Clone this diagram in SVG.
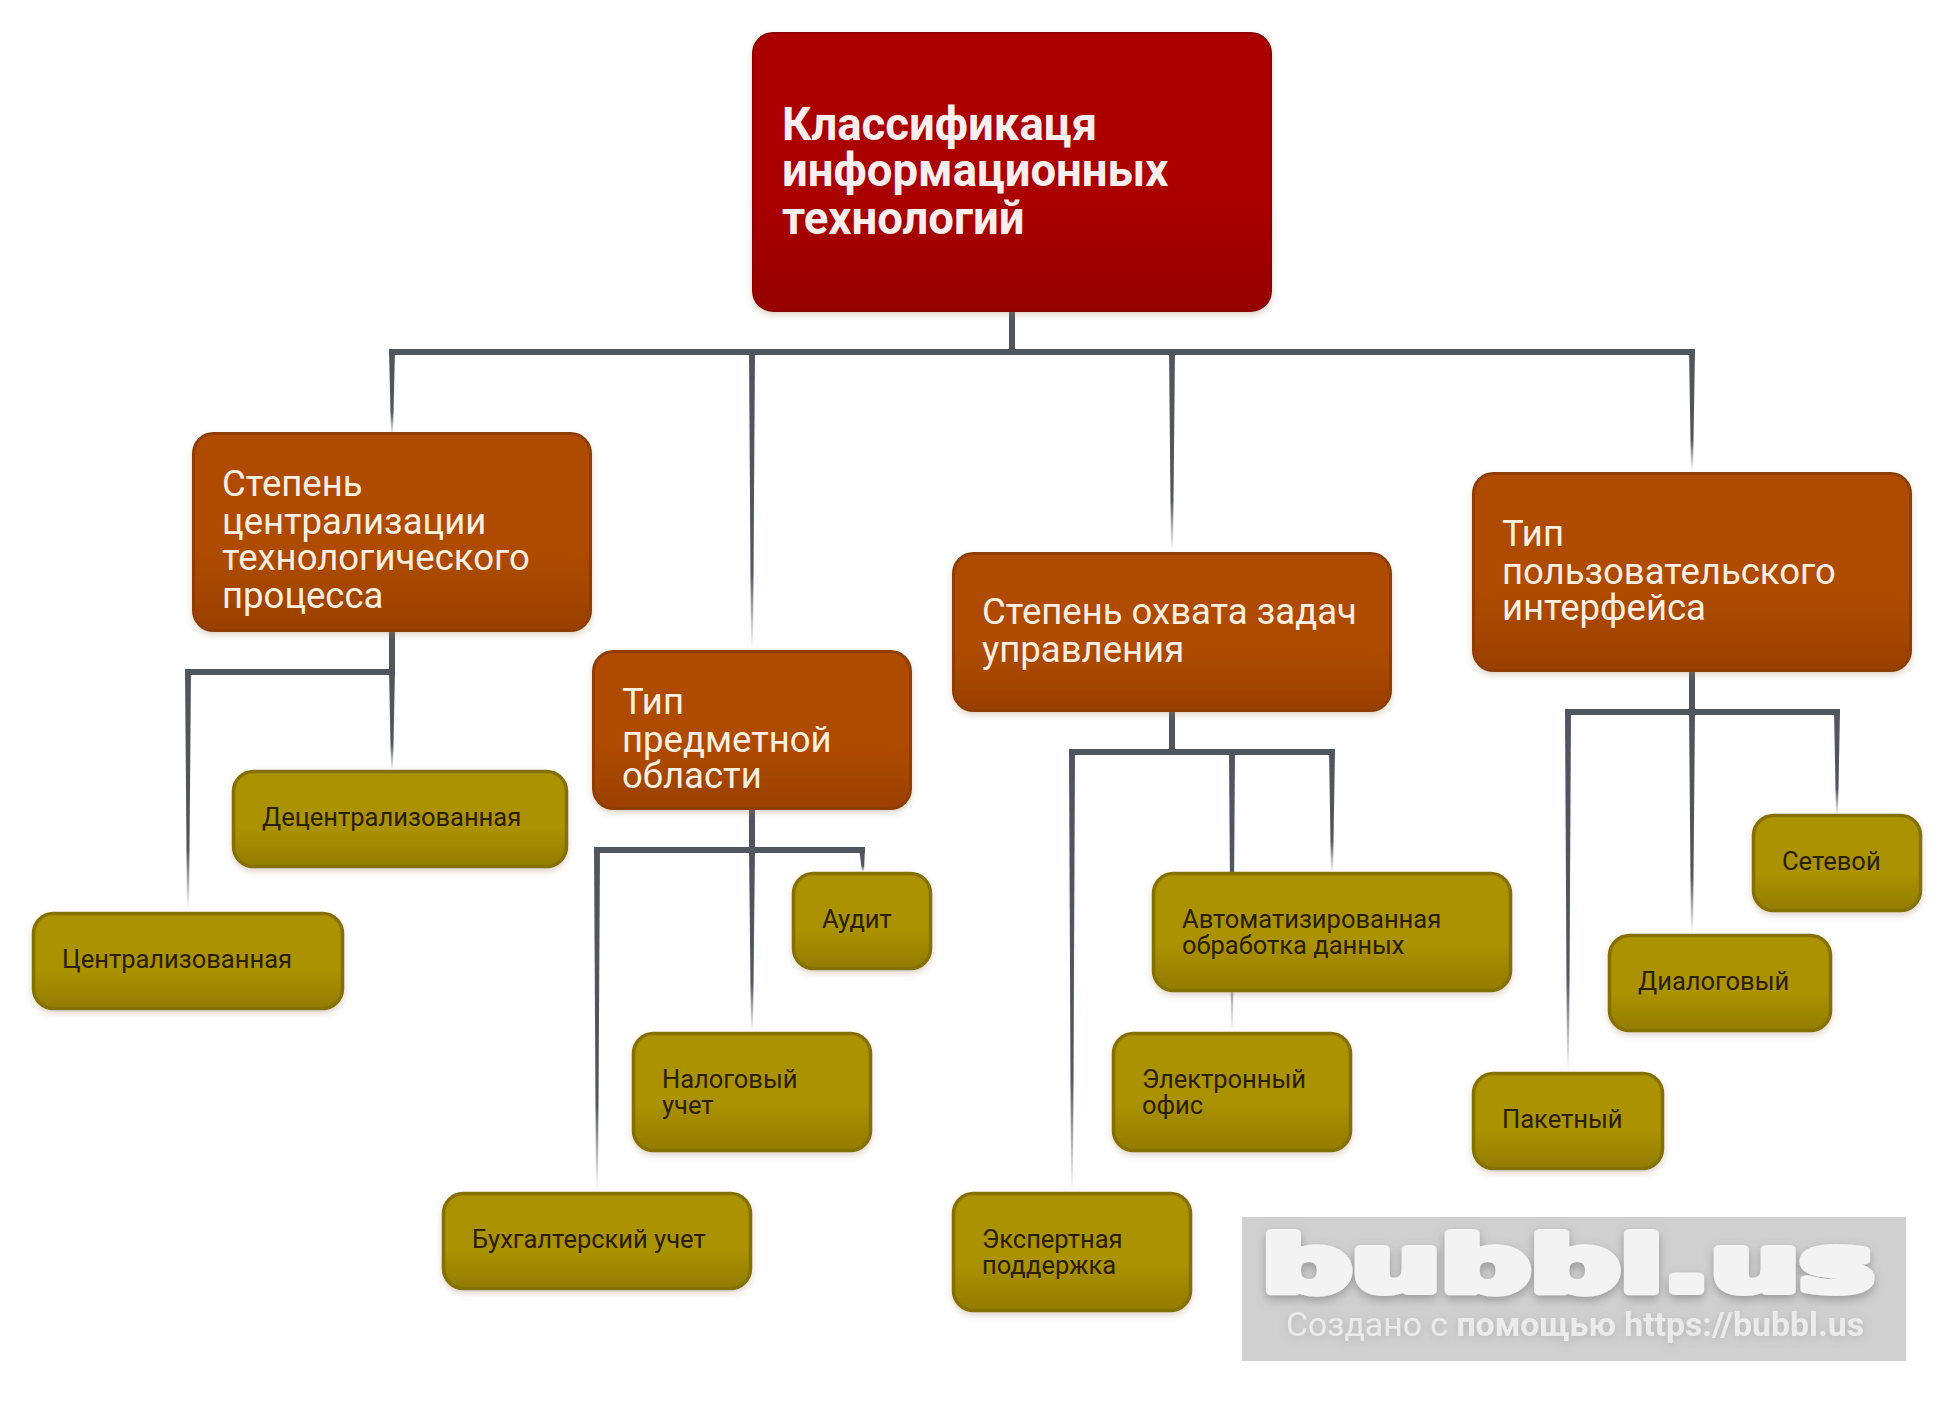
<svg xmlns="http://www.w3.org/2000/svg" width="1954" height="1408" viewBox="0 0 1954 1408">
<style>
text{font-family:Roboto,"Liberation Sans",sans-serif}
.root rect{fill:url(#gr);stroke:#8f0000;stroke-width:2}
.mid rect{fill:url(#go);stroke:#8f3d00;stroke-width:3}
.leaf rect{fill:url(#gl);stroke:#857100;stroke-width:3.500}
.root text{font-size:45.500px;font-weight:700;fill:#fbeeee}
.mid text{font-size:36.500px;fill:#fdf0e2}
.leaf text{font-size:25.500px;fill:#2a2000}
.bar{fill:#50565e}
.fade{fill:url(#gf)}
</style>
<defs>
<linearGradient id="gr" x1="0" y1="0" x2="0" y2="1"><stop offset="0" stop-color="#aa0000"/><stop offset=".6" stop-color="#aa0000"/><stop offset="1" stop-color="#960000"/></linearGradient>
<linearGradient id="go" x1="0" y1="0" x2="0" y2="1"><stop offset="0" stop-color="#af4b00"/><stop offset=".6" stop-color="#af4b00"/><stop offset="1" stop-color="#994000"/></linearGradient>
<linearGradient id="gl" x1="0" y1="0" x2="0" y2="1"><stop offset="0" stop-color="#ab9200"/><stop offset=".6" stop-color="#ab9200"/><stop offset="1" stop-color="#927c00"/></linearGradient>
<linearGradient id="gf" x1="0" y1="0" x2="0" y2="1"><stop offset="0" stop-color="#50565e"/><stop offset=".75" stop-color="#50565e"/><stop offset="1" stop-color="#50565e" stop-opacity="0"/></linearGradient>
<filter id="sh" x="-5%" y="-10%" width="110%" height="125%"><feDropShadow dx="0" dy="3" stdDeviation="3" flood-color="#a08060" flood-opacity=".35"/></filter>
<filter id="ws" x="-5%" y="-20%" width="110%" height="150%"><feDropShadow dx="0" dy="4" stdDeviation="5" flood-color="#777" flood-opacity=".6"/></filter>
<filter id="ts" x="-5%" y="-30%" width="110%" height="170%"><feDropShadow dx="0" dy="2" stdDeviation="4" flood-color="#999" flood-opacity=".5"/></filter>
</defs>
<g id="connectors">
<g id="c-root">
<rect class="bar" x="1009" y="312" width="6" height="40"/>
<path class="bar" d="M389 349H1695V355H389Z"/>
<polygon class="fade" points="389,349 395,349 393,434 391,434"/>
<polygon class="fade" points="749,349 755,349 753,648 751,648"/>
<polygon class="fade" points="1169,349 1175,349 1173,550 1171,550"/>
<polygon class="fade" points="1689,349 1695,349 1693,470 1691,470"/>
</g>
<g id="c-n1">
<rect class="bar" x="389" y="632" width="6" height="43"/>
<path class="bar" d="M185 669H395V675H185Z"/>
<polygon class="fade" points="185,669 191,669 189,910 187,910"/>
<polygon class="fade" points="389,669 395,669 393,769 391,769"/>
</g>
<g id="c-n2">
<rect class="bar" x="749" y="810" width="6" height="43"/>
<path class="bar" d="M594 847H865V853H594Z"/>
<polygon class="fade" points="594,847 600,847 598,1190 596,1190"/>
<polygon class="fade" points="749,847 755,847 753,1030 751,1030"/>
<polygon class="fade" points="859,847 865,847 864,872 862,872"/>
</g>
<g id="c-n3">
<rect class="bar" x="1169" y="712" width="6" height="43"/>
<path class="bar" d="M1069 749H1335V755H1069Z"/>
<polygon class="fade" points="1069,749 1075,749 1073,1190 1071,1190"/>
<polygon class="fade" points="1229,749 1235,749 1233,1030 1231,1030"/>
<polygon class="fade" points="1329,749 1335,749 1333,872 1331,872"/>
</g>
<g id="c-n4">
<rect class="bar" x="1689" y="672" width="6" height="43"/>
<path class="bar" d="M1565 709H1840V715H1565Z"/>
<polygon class="fade" points="1565,709 1571,709 1569,1070 1567,1070"/>
<polygon class="fade" points="1689,709 1695,709 1693,933 1691,933"/>
<polygon class="fade" points="1834,709 1840,709 1838,815 1836,815"/>
</g>
</g>
<g id="root" class="root"><rect x="753" y="33" width="518" height="278" rx="20" filter="url(#sh)"/><text x="782" y="140">Классификаця</text><text x="782" y="186">информационных</text><text x="782" y="234">технологий</text></g>
<g id="n1" class="mid"><rect x="193.500" y="433.500" width="397" height="197" rx="20" filter="url(#sh)"/><text x="222" y="496">Степень</text><text x="222" y="534">централизации</text><text x="222" y="570">технологического</text><text x="222" y="608">процесса</text></g>
<g id="n2" class="mid"><rect x="593.500" y="651.500" width="317" height="157" rx="20" filter="url(#sh)"/><text x="622" y="714">Тип</text><text x="622" y="752">предметной</text><text x="622" y="788">области</text></g>
<g id="n3" class="mid"><rect x="953.500" y="553.500" width="437" height="157" rx="20" filter="url(#sh)"/><text x="982" y="624">Степень охвата задач</text><text x="982" y="662">управления</text></g>
<g id="n4" class="mid"><rect x="1473.500" y="473.500" width="437" height="197" rx="20" filter="url(#sh)"/><text x="1502" y="546">Тип</text><text x="1502" y="584">пользовательского</text><text x="1502" y="620">интерфейса</text></g>
<g id="l1" class="leaf"><rect x="233.500" y="771.500" width="333" height="95" rx="20" filter="url(#sh)"/><text x="262" y="826">Децентрализованная</text></g>
<g id="l2" class="leaf"><rect x="33.500" y="913.500" width="309" height="95" rx="20" filter="url(#sh)"/><text x="62" y="968">Централизованная</text></g>
<g id="l3" class="leaf"><rect x="793.500" y="873.500" width="137" height="95" rx="20" filter="url(#sh)"/><text x="822" y="928">Аудит</text></g>
<g id="l4" class="leaf"><rect x="633.500" y="1033.500" width="237" height="117" rx="20" filter="url(#sh)"/><text x="662" y="1088">Налоговый</text><text x="662" y="1114">учет</text></g>
<g id="l5" class="leaf"><rect x="443.500" y="1193.500" width="307" height="95" rx="20" filter="url(#sh)"/><text x="472" y="1248">Бухгалтерский учет</text></g>
<g id="l6" class="leaf"><rect x="1153.500" y="873.500" width="357" height="117" rx="20" filter="url(#sh)"/><text x="1182" y="928">Автоматизированная</text><text x="1182" y="954">обработка данных</text></g>
<g id="l7" class="leaf"><rect x="1113.500" y="1033.500" width="237" height="117" rx="20" filter="url(#sh)"/><text x="1142" y="1088">Электронный</text><text x="1142" y="1114">офис</text></g>
<g id="l8" class="leaf"><rect x="953.500" y="1193.500" width="237" height="117" rx="20" filter="url(#sh)"/><text x="982" y="1248">Экспертная</text><text x="982" y="1274">поддержка</text></g>
<g id="l9" class="leaf"><rect x="1753.500" y="815.500" width="167" height="95" rx="20" filter="url(#sh)"/><text x="1782" y="870">Сетевой</text></g>
<g id="l10" class="leaf"><rect x="1609.500" y="935.500" width="221" height="95" rx="20" filter="url(#sh)"/><text x="1638" y="990">Диалоговый</text></g>
<g id="l11" class="leaf"><rect x="1473.500" y="1073.500" width="189" height="95" rx="20" filter="url(#sh)"/><text x="1502" y="1128">Пакетный</text></g>
<g id="watermark">
<rect x="1242" y="1217" width="664" height="144" fill="#d0d0d0"/>
<text x="1262" y="1291" font-size="76" style="font-family:'DejaVu Sans',sans-serif;font-weight:700" fill="#f3f3f3" stroke="#f3f3f3" stroke-width="8" stroke-linejoin="round" textLength="612" lengthAdjust="spacingAndGlyphs" filter="url(#ws)">bubbl.us</text>
<text x="1286" y="1336" font-size="33" fill="#ebebeb" filter="url(#ts)" textLength="578" lengthAdjust="spacingAndGlyphs">Создано с <tspan font-weight="700">помощью https://bubbl.us</tspan></text>
</g>
</svg>
